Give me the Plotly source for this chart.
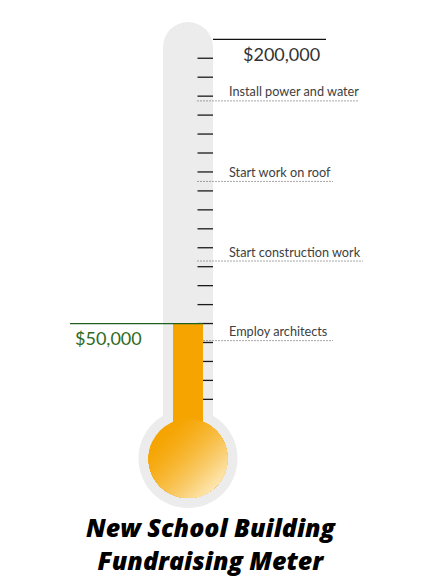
import math
import plotly.graph_objects as go

# ---------------- data ----------------
goal = 200000
raised = 50000
tick_values = [10000, 20000, 30000, 40000, 50000, 60000, 70000, 80000, 90000, 100000,
               110000, 120000, 130000, 140000, 150000, 160000, 170000, 180000, 190000]
milestone_labels = ["Employ architects", "Start construction work",
                    "Start work on roof", "Install power and water"]
milestone_values = [41000, 83000, 125000, 167500]
goal_label = "$200,000"
raised_label = "$50,000"
title_lines = ["New School Building", "Fundraising Meter"]

# ---------------- layout constants (window pixels) ----------------
WIN_W, WIN_H = 422, 580
OFF = 8                     # page body margin
W, H = WIN_W - OFF, WIN_H - OFF
ZERO_PX = 418.3             # pixel row of $0
PX_PER_10K = 18.95
DPP = 10000.0 / PX_PER_10K  # dollars per pixel


def pv(p):
    """window pixel row -> dollar value on the y axis"""
    return (ZERO_PX - p) * DPP


TUBE_CX = 188
TUBE_HALF = 25
TUBE_TOP_CY = 47
BULB_CY = 458.5
BULB_OUTER_R = 49.5
BULB_INNER_R = 39.5
BAR_W = 30
TICK_X0, TICK_X1 = 197.5, 213
LINE_END = [333, 363, 333, 358]
GRAY = "#ececec"
ORANGE = (245, 164, 0)
LIGHT = (253, 231, 180)

fig = go.Figure()
shapes = []


def circle(cx, cy, r, color, layer):
    return dict(type="circle", xref="x", yref="y",
                x0=cx - r, x1=cx + r, y0=pv(cy + r), y1=pv(cy - r),
                fillcolor=color, line=dict(width=0), layer=layer)


# tube
shapes.append(dict(type="rect", xref="x", yref="y",
                   x0=TUBE_CX - TUBE_HALF, x1=TUBE_CX + TUBE_HALF,
                   y0=pv(BULB_CY), y1=pv(TUBE_TOP_CY),
                   fillcolor=GRAY, line=dict(width=0), layer="below"))
shapes.append(circle(TUBE_CX, TUBE_TOP_CY, TUBE_HALF, GRAY, "below"))
shapes.append(circle(TUBE_CX, BULB_CY, BULB_OUTER_R, GRAY, "below"))

# ticks
for v in tick_values:
    shapes.append(dict(type="line", xref="x", yref="y", x0=TICK_X0, x1=TICK_X1,
                       y0=v, y1=v, line=dict(color="#1a1a1a", width=1.3), layer="below"))

# milestone dotted lines
for v, xe in zip(milestone_values, LINE_END):
    shapes.append(dict(type="line", xref="x", yref="y", x0=TICK_X0, x1=xe,
                       y0=v, y1=v, line=dict(color="#505050", width=1, dash="1px,2px"),
                       layer="below"))

# goal line
shapes.append(dict(type="line", xref="x", yref="y", x0=213, x1=326, y0=goal, y1=goal,
                   line=dict(color="#111111", width=1.2), layer="below"))

# mercury bar
fig.add_trace(go.Bar(x=[TUBE_CX], y=[raised - pv(BULB_CY)], base=[pv(BULB_CY)],
                     width=[BAR_W], marker=dict(color="#f5a400", line=dict(width=0)),
                     hoverinfo="skip", showlegend=False))

# raised line
shapes.append(dict(type="line", xref="x", yref="y", x0=70, x1=203, y0=raised, y1=raised,
                   line=dict(color="#1f5f1f", width=1.2), layer="above"))

# bulb: linear diagonal gradient built from nested circular segments
R = BULB_INNER_R
shapes.append(circle(TUBE_CX, BULB_CY, R, "rgb(%d,%d,%d)" % ORANGE, "above"))
phi = math.pi / 4  # direction toward bottom-right (pixel coords, y down)
N = 40
for k in range(1, N):
    d = -R + 2 * R * k / N
    t = min(1.0, ((d / R + 1) / 2) ** 1.5)
    col = "rgb(%d,%d,%d)" % tuple(round(a + (b - a) * t) for a, b in zip(ORANGE, LIGHT))
    half = math.acos(max(-1.0, min(1.0, d / R)))
    pts = []
    M = 36
    for j in range(M + 1):
        a = phi - half + 2 * half * j / M
        px = TUBE_CX + R * math.cos(a)
        py = BULB_CY + R * math.sin(a)
        pts.append((px, pv(py)))
    path = "M " + " L ".join("%.3f,%.3f" % p for p in pts) + " Z"
    shapes.append(dict(type="path", xref="x", yref="y", path=path,
                       fillcolor=col, line=dict(width=0), layer="above"))

annotations = []
for lab, v in zip(milestone_labels, milestone_values):
    annotations.append(dict(x=226.5, y=v, xref="x", yref="y", text=lab, showarrow=False,
                            xanchor="left", yanchor="bottom", yshift=-0.5,
                            font=dict(family="Lato", size=12.7, color="#404040")))
annotations.append(dict(x=281.5, y=goal, xref="x", yref="y", text=goal_label,
                        showarrow=False, xanchor="center", yanchor="top", yshift=-2,
                        font=dict(family="Lato", size=18, color="#333333")))
annotations.append(dict(x=108.5, y=raised, xref="x", yref="y", text=raised_label,
                        showarrow=False, xanchor="center", yanchor="top", yshift=-1,
                        font=dict(family="Lato", size=18, color="#2f6a22")))
annotations.append(dict(x=(211 - OFF) / W, y=1 - (543 - OFF) / H, xref="paper", yref="paper",
                        text="<br>".join(title_lines), showarrow=False, xanchor="center",
                        yanchor="middle", align="center",
                        font=dict(family="Open Sans", size=25, color="#000000",
                                  weight=800, style="italic")))

fig.update_layout(
    width=W, height=H, autosize=False,
    margin=dict(l=0, r=0, t=0, b=0),
    paper_bgcolor="white", plot_bgcolor="white",
    xaxis=dict(range=[OFF, WIN_W], visible=False, fixedrange=True),
    yaxis=dict(range=[pv(WIN_H), pv(OFF)], visible=False, fixedrange=True),
    shapes=shapes, annotations=annotations, showlegend=False,
)

fig.write_html("out.html")
